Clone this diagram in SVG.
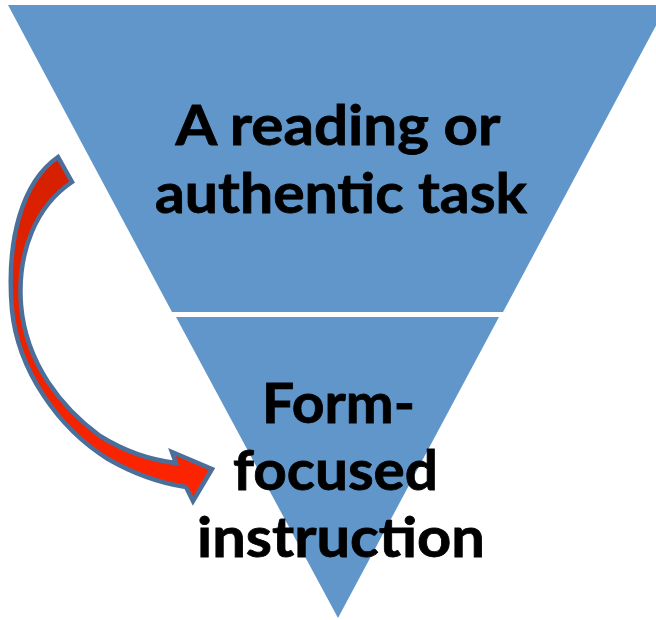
<svg xmlns="http://www.w3.org/2000/svg" width="656" height="620" viewBox="0 0 656 620">
  <defs>
    <linearGradient id="redGrad" x1="0" y1="0" x2="0" y2="1">
      <stop offset="0" stop-color="#D42000"/>
      <stop offset="1" stop-color="#FF2400"/>
    </linearGradient>
    <style>
      .tier { fill: #6096C9; }
      .label { font-family: Lato, "Open Sans", "Liberation Sans", sans-serif; font-weight: bold; font-size: 56px; fill: #000000; stroke: #000000; stroke-width: 0.8; text-anchor: middle; }
      .arrow { fill: url(#redGrad); stroke: #4A6F9B; stroke-width: 4.5; stroke-linejoin: miter; }
    </style>
  </defs>
  <rect x="0" y="0" width="656" height="620" fill="#FFFFFF"/>
  <g id="tier-top">
    <polygon class="tier" points="8,5 667,5 503,312 172,312"/>
    <text class="label" x="338" y="145" textLength="325" lengthAdjust="spacingAndGlyphs">A reading or</text>
    <text class="label" x="341" y="213" textLength="372" lengthAdjust="spacingAndGlyphs">authentic task</text>
  </g>
  <g id="tier-bottom">
    <polygon class="tier" points="176,317 499,317 338,618"/>
    <text class="label" x="338.5" y="423" textLength="153" lengthAdjust="spacingAndGlyphs">Form-</text>
    <text class="label" x="335.5" y="490" textLength="205" lengthAdjust="spacingAndGlyphs">focused</text>
    <text class="label" x="341" y="557" textLength="288" lengthAdjust="spacingAndGlyphs">instruction</text>
  </g>
  <g id="connectors">
    <path class="arrow" d="M58,157 C22,182 6,240 12,310 C18,370 58,428 108,459 C134,474 160,483 186,487 L193,501 L212,469 L172,452 L176,463 C150,460 124,451 100,436 C62,408 26,364 21,305 C17,252 36,206 72,182 Z"/>
  </g>
</svg>
